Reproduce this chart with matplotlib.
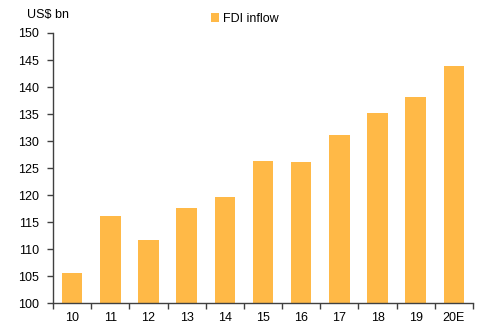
import matplotlib
matplotlib.use("Agg")
import matplotlib.pyplot as plt
import numpy as np

plt.rcParams['font.family'] = ['Liberation Sans', 'DejaVu Sans']

years = ["10", "11", "12", "13", "14", "15", "16", "17", "18", "19", "20E"]
fdi_inflow = [105.6, 116.2, 111.7, 117.6, 119.7, 126.4, 126.2, 131.2, 135.2, 138.2, 143.9]
y_ticks = [100, 105, 110, 115, 120, 125, 130, 135, 140, 145, 150]

bar_color = "#FFB947"
axis_color = "#404040"
fs = 9

fig = plt.figure(figsize=(4.87, 3.28), dpi=100)
ax = fig.add_axes([0.1088, 0.0753, 0.8625, 0.8241])

x = np.arange(len(years))
ax.bar(x, fdi_inflow, width=0.54, color=bar_color, label="FDI inflow", zorder=2)

ax.set_ylim(100, 150)
ax.set_xlim(-0.5, len(years) - 0.5)
ax.set_yticks(y_ticks)
ax.set_yticklabels([str(t) for t in y_ticks], fontsize=fs)

# labels centred under bars, tick marks on category boundaries
ax.set_xticks(np.arange(-0.5, len(years), 1.0))
ax.set_xticklabels([])
ax.set_xticks(x, minor=True)
ax.set_xticklabels(years, minor=True, fontsize=fs)
ax.tick_params(axis='x', which='major', direction='out', length=4, width=1, color=axis_color)
ax.tick_params(axis='x', which='minor', length=0, pad=6)
ax.tick_params(axis='y', direction='out', length=4, width=1, color=axis_color, pad=6)

for side in ("top", "right"):
    ax.spines[side].set_visible(False)
for side in ("left", "bottom"):
    ax.spines[side].set_color(axis_color)
    ax.spines[side].set_linewidth(1)

fig.text(27 / 487, 1 - 15 / 328, "US$ bn", fontsize=fs, va="center", ha="left")

ax.legend(loc="center left", bbox_to_anchor=(205 / 487, 1 - 19 / 328),
          bbox_transform=fig.transFigure, frameon=False, fontsize=fs,
          handlelength=0.65, handleheight=0.65, handletextpad=0.3, borderpad=0)

fig.savefig("out.png", dpi=100)
